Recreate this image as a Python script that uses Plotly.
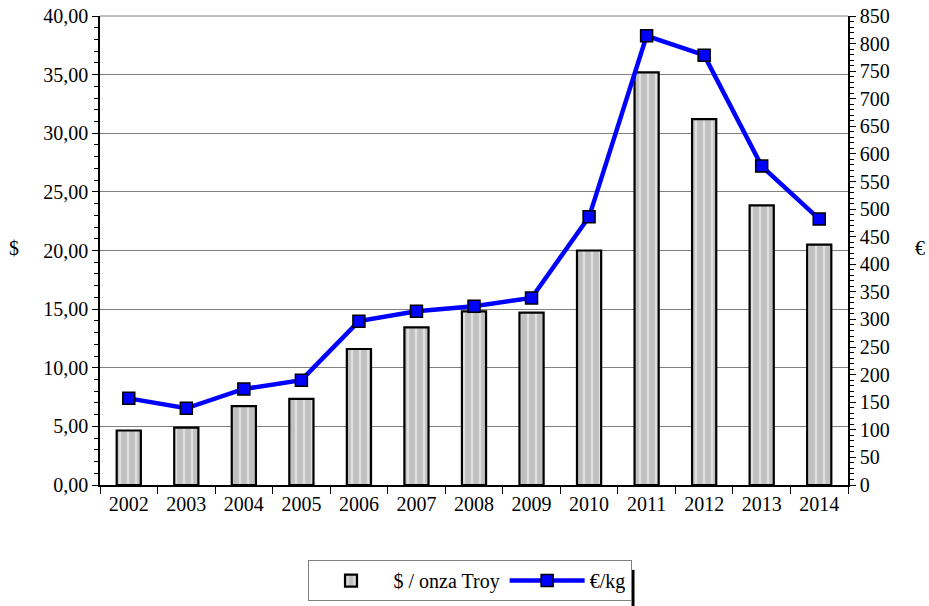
import plotly.graph_objects as go

years = ["2002", "2003", "2004", "2005", "2006", "2007", "2008", "2009", "2010", "2011", "2012", "2013", "2014"]
usd_oz = [4.65, 4.90, 6.72, 7.35, 11.60, 13.45, 14.80, 14.70, 20.00, 35.20, 31.20, 23.85, 20.50]
eur_kg = [157, 139, 174, 190, 297, 315, 324, 339, 486, 814, 779, 578, 482]

font = "Liberation Serif"
FS = 20

fig = go.Figure()
fig.add_trace(go.Bar(
    x=years, y=usd_oz, name="$ / onza Troy", width=0.42,
    marker=dict(color="#c0c0c0", line=dict(color="black", width=2.2),
                pattern=dict(shape="|", fgcolor="white", bgcolor="#c0c0c0", size=8, solidity=0.3)),
    yaxis="y",
))
fig.add_trace(go.Scatter(
    x=years, y=eur_kg, name="€/kg", mode="lines+markers",
    line=dict(color="#0000ff", width=4.5),
    marker=dict(symbol="square", size=12, color="#0000ff", line=dict(color="black", width=1.5)),
    yaxis="y2",
))

fig.update_layout(
    width=929, height=606,
    margin=dict(l=100, r=81, t=16, b=121, autoexpand=False),
    paper_bgcolor="white", plot_bgcolor="white",
    separators=",.",
    font=dict(family=font, size=FS, color="black"),
    showlegend=True,
    legend=dict(orientation="h", x=0.494, xanchor="center", y=-0.16, yanchor="top",
                bordercolor="#808080", borderwidth=1, font=dict(size=FS),
                itemwidth=75, traceorder="normal", bgcolor="white"),
    xaxis=dict(type="category", range=[-0.5, 12.5], showline=True, linecolor="black", linewidth=1.5,
               ticks="outside", tickson="boundaries", ticklen=7, tickcolor="black",
               showgrid=False, tickfont=dict(size=FS), automargin=False),
    yaxis=dict(range=[0, 40], dtick=5, tickformat=".2f", showline=True, linecolor="black",
               linewidth=1.5, ticks="outside", ticklen=6, tickcolor="black",
               showgrid=True, gridcolor="#808080", gridwidth=1, zeroline=False,
               minor=dict(dtick=1, ticks="outside", ticklen=4, tickcolor="black"),
               tickfont=dict(size=FS), automargin=False, ticklabeloverflow="allow"),
    yaxis2=dict(range=[0, 850], dtick=50, overlaying="y", side="right", showline=True,
                linecolor="black", linewidth=1.5, ticks="outside", ticklen=6, tickcolor="black",
                showgrid=False, zeroline=False,
                minor=dict(dtick=10, ticks="outside", ticklen=4, tickcolor="black"),
                tickfont=dict(size=FS), automargin=False, ticklabeloverflow="allow"),
    annotations=[
        dict(text="$", xref="paper", yref="paper", x=-0.115, y=0.505, showarrow=False,
             font=dict(size=FS), xanchor="center", yanchor="middle"),
        dict(text="€", xref="paper", yref="paper", x=1.096, y=0.505, showarrow=False,
             font=dict(size=FS), xanchor="center", yanchor="middle"),
    ],
    shapes=[
        dict(type="line", xref="paper", yref="paper", x0=0, x1=1, y0=1, y1=1,
             line=dict(color="#808080", width=1)),
        dict(type="line", xref="paper", yref="paper", x0=0.7126, x1=0.7126, y0=-0.181, y1=-0.26,
             line=dict(color="black", width=3)),
    ],
)

fig.write_html("out.html", config={"displayModeBar": False},
               post_script="document.body.style.margin='0';document.body.style.overflow='hidden';")
